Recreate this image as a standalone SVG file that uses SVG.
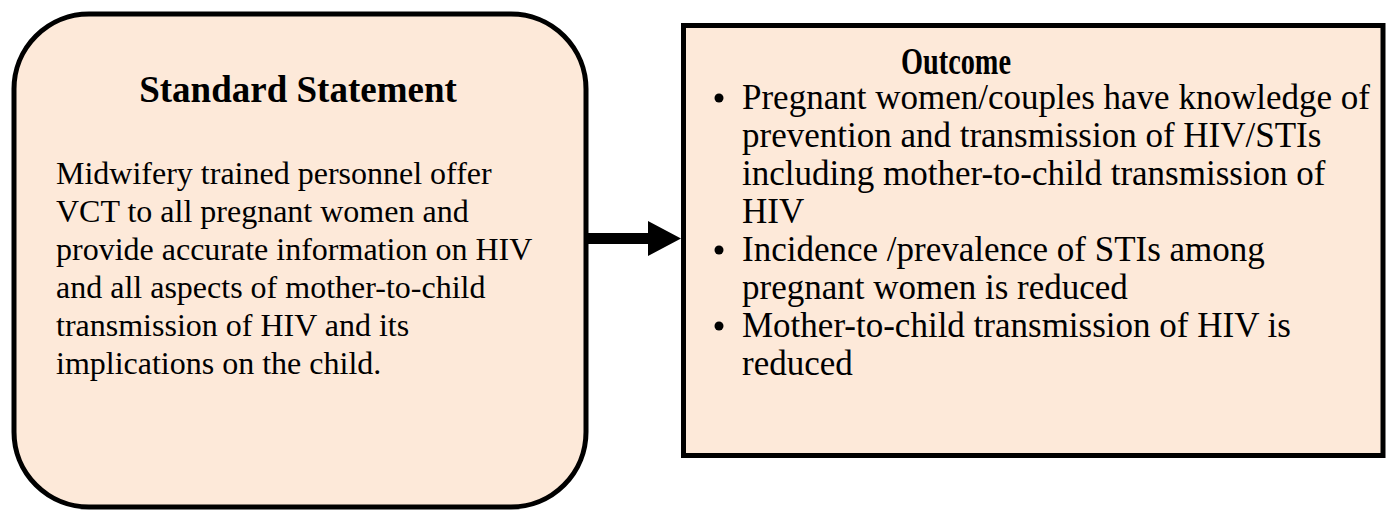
<svg xmlns="http://www.w3.org/2000/svg" width="1389" height="511" viewBox="0 0 1389 511">
<style>
.box{fill:#FDE9D9;stroke:#000;stroke-width:5}
.t{font-family:"Liberation Serif","Times New Roman",serif;font-weight:bold;font-size:37px;fill:#000;text-anchor:middle}
.b{font-family:"Liberation Serif","Times New Roman",serif;font-size:32px;fill:#000}
.r{font-family:"Liberation Serif","Times New Roman",serif;font-size:35px;fill:#000}
</style>
<rect width="1389" height="511" fill="#fff"/>
<g id="standard">
<rect class="box" x="14" y="14" width="572" height="493" rx="75" ry="75"/>
<text class="t" x="298" y="102">Standard Statement</text>
<text class="b" x="56" y="184">Midwifery trained personnel offer</text>
<text class="b" x="56" y="222">VCT to all pregnant women and</text>
<text class="b" x="56" y="260">provide accurate information on HIV</text>
<text class="b" x="56" y="298">and all aspects of mother-to-child</text>
<text class="b" x="56" y="336">transmission of HIV and its</text>
<text class="b" x="56" y="374">implications on the child.</text>
</g>
<g id="outcome">
<rect class="box" x="683.5" y="25.5" width="699.5" height="430"/>
<text class="t" x="956" y="74" textLength="110" lengthAdjust="spacingAndGlyphs">Outcome</text>
<circle cx="719" cy="98" r="4.5"/>
<text class="r" x="742" y="109">Pregnant women/couples have knowledge of</text>
<text class="r" x="742" y="147">prevention and transmission of HIV/STIs</text>
<text class="r" x="742" y="185">including mother-to-child transmission of</text>
<text class="r" x="742" y="223">HIV</text>
<circle cx="719" cy="250" r="4.5"/>
<text class="r" x="742" y="261">Incidence /prevalence of STIs among</text>
<text class="r" x="742" y="299">pregnant women is reduced</text>
<circle cx="719" cy="326" r="4.5"/>
<text class="r" x="742" y="337">Mother-to-child transmission of HIV is</text>
<text class="r" x="742" y="375">reduced</text>
</g>
<g id="connectors">
<path d="M588 233 H648 V221 L681 238.5 L648 256 V244 H588 Z" fill="#000"/>
</g>
</svg>
